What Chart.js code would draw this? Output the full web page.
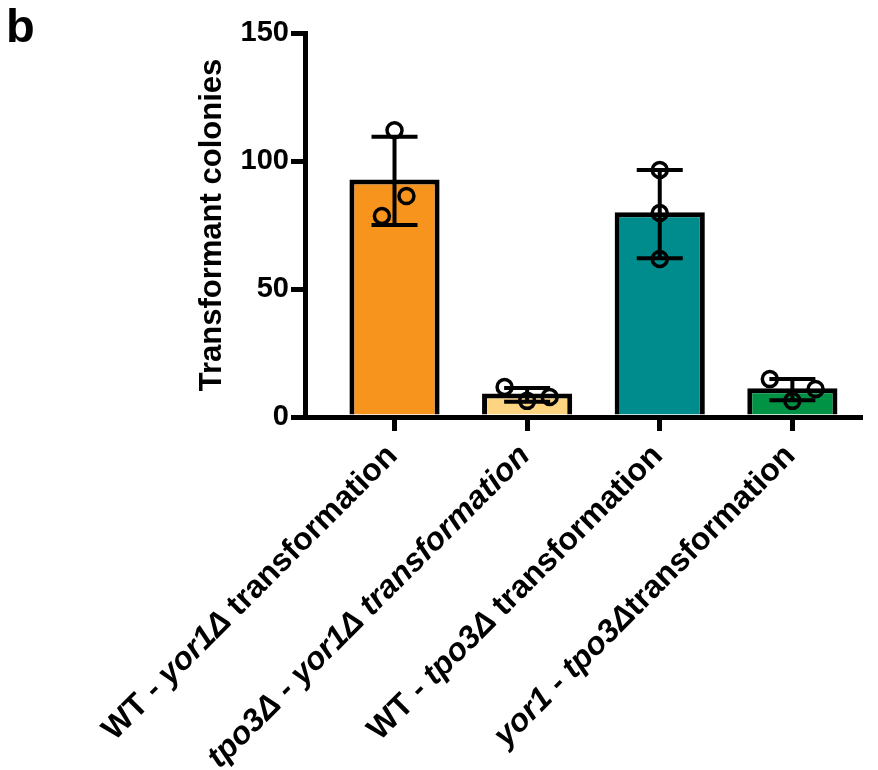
<!DOCTYPE html>
<html>
<head>
<meta charset="utf-8">
<script src="https://cdn.jsdelivr.net/npm/chart.js@4.4.1/dist/chart.umd.min.js"></script>
<style>
  body { margin: 0; background: #fff; }
  #wrap { width: 878px; height: 770px; }
</style>
</head>
<body>
<div id="wrap"><canvas id="myChart"></canvas></div>
<script>
// group names, split into [text, italic] pieces for drawing
var categories = ['WT - yor1Δ transformation', 'tpo3Δ - yor1Δ transformation',
                  'WT - tpo3Δ transformation', 'yor1 - tpo3Δtransformation'];
var labelParts = [
  [['WT - ', false], ['yor1Δ', true], [' transformation', false]],
  [['tpo3Δ - yor1Δ transformation', true]],
  [['WT - ', false], ['tpo3Δ', true], [' transformation', false]],
  [['yor1', true], [' - ', false], ['tpo3Δ', true], ['transformation', false]]
];
var barColors = ['#F7941D', '#FDD582', '#008C8C', '#009245'];
var means = [92.8, 9.2, 80, 11.2];
var errLow = [75, 6, 62, 6.5];
var errHigh = [109.5, 11.3, 96.5, 14.8];
// individual replicates: group index, jitter and value
var pointGroup = [0, 0, 0, 1, 1, 1, 2, 2, 2, 3, 3, 3];
var pointJitter = [0, 0.09, -0.095, -0.17, 0, 0.17, 0, 0, 0, -0.17, 0, 0.175];
var pointValues = [112, 86.3, 78.5, 11.7, 6.3, 7.8, 96.5, 79.7, 61.7, 14.8, 6.3, 10.9];
var yTicks = [0, 50, 100, 150];

Chart.defaults.font.family = "'Liberation Sans', Arial, Helvetica, sans-serif";
Chart.defaults.color = '#000';

var FONT = "'Liberation Sans', Arial, Helvetica, sans-serif";

var extras = {
  id: 'extras',
  afterDatasetsDraw: function(chart) {
    var ctx = chart.ctx;
    var x = chart.scales.x, y = chart.scales.y;
    ctx.save();
    ctx.strokeStyle = '#000';
    ctx.lineWidth = 4;
    ctx.lineCap = 'butt';
    for (var i = 0; i < means.length; i++) {
      var px = x.getPixelForValue(i);
      var lo = y.getPixelForValue(errLow[i]);
      var hi = y.getPixelForValue(errHigh[i]);
      ctx.beginPath();
      ctx.moveTo(px, lo); ctx.lineTo(px, hi);
      ctx.moveTo(px - 23, lo); ctx.lineTo(px + 23, lo);
      ctx.moveTo(px - 23, hi); ctx.lineTo(px + 23, hi);
      ctx.stroke();
    }
    ctx.restore();
  },
  afterDraw: function(chart) {
    var ctx = chart.ctx;
    var x = chart.scales.x;
    ctx.save();
    ctx.fillStyle = '#000';
    // panel letter
    ctx.font = 'bold 47px ' + FONT;
    ctx.textBaseline = 'alphabetic';
    ctx.textAlign = 'left';
    ctx.fillText('b', 6, 42);
    // rotated group labels with italic gene names
    ctx.textBaseline = 'middle';
    for (var i = 0; i < labelParts.length; i++) {
      var parts = labelParts[i];
      var total = 0;
      parts.forEach(function(p) {
        ctx.font = (p[1] ? 'italic ' : '') + 'bold 32px ' + FONT;
        total += ctx.measureText(p[0]).width;
      });
      ctx.save();
      ctx.translate(x.getPixelForValue(i) - 2, 451);
      ctx.rotate(-Math.PI / 4);
      var pos = -total;
      parts.forEach(function(p) {
        ctx.font = (p[1] ? 'italic ' : '') + 'bold 32px ' + FONT;
        ctx.fillText(p[0], pos, 0);
        pos += ctx.measureText(p[0]).width;
      });
      ctx.restore();
    }
    ctx.restore();
  }
};

var ctx = document.getElementById('myChart');
var myChart = new Chart(ctx, {
  type: 'bar',
  data: {
    datasets: [
      {
        type: 'bar',
        order: 2,
        data: means.map(function(v, i) { return { x: i, y: v }; }),
        backgroundColor: barColors,
        borderColor: '#000',
        borderWidth: 5,
        borderSkipped: 'start',
        barPercentage: 0.68,
        categoryPercentage: 1
      },
      {
        type: 'scatter',
        order: 1,
        data: pointValues.map(function(v, i) { return { x: pointGroup[i] + pointJitter[i], y: v }; }),
        backgroundColor: 'rgba(0,0,0,0)',
        borderColor: '#000',
        borderWidth: 3.5,
        pointRadius: 7.5
      }
    ]
  },
  options: {
    responsive: true,
    maintainAspectRatio: false,
    animation: false,
    layout: { padding: { left: 180, right: 18, top: 33, bottom: 0 } },
    plugins: { legend: { display: false }, tooltip: { enabled: false } },
    scales: {
      x: {
        type: 'linear',
        min: -0.675,
        max: 3.51,
        offset: false,
        afterBuildTicks: function(scale) {
          scale.ticks = categories.map(function(c, i) { return { value: i }; });
        },
        afterFit: function(scale) { scale.height = 353; },
        ticks: { display: false },
        grid: { offset: false, drawOnChartArea: false, tickLength: 14, lineWidth: 5, color: '#000' },
        border: { color: '#000', width: 5 }
      },
      y: {
        min: 0,
        max: 150,
        afterBuildTicks: function(scale) {
          scale.ticks = yTicks.map(function(v) { return { value: v }; });
        },
        afterFit: function(scale) { scale.width = 125; },
        ticks: { font: { size: 29, weight: 'bold' }, padding: 2, color: '#000' },
        grid: { drawOnChartArea: false, tickLength: 14, lineWidth: 5, color: '#000' },
        border: { color: '#000', width: 5 },
        title: {
          display: true,
          text: 'Transformant colonies',
          font: { size: 31, weight: 'bold' },
          padding: { top: 14, bottom: 0 },
          color: '#000'
        }
      }
    }
  },
  plugins: [extras]
});
</script>
</body>
</html>
